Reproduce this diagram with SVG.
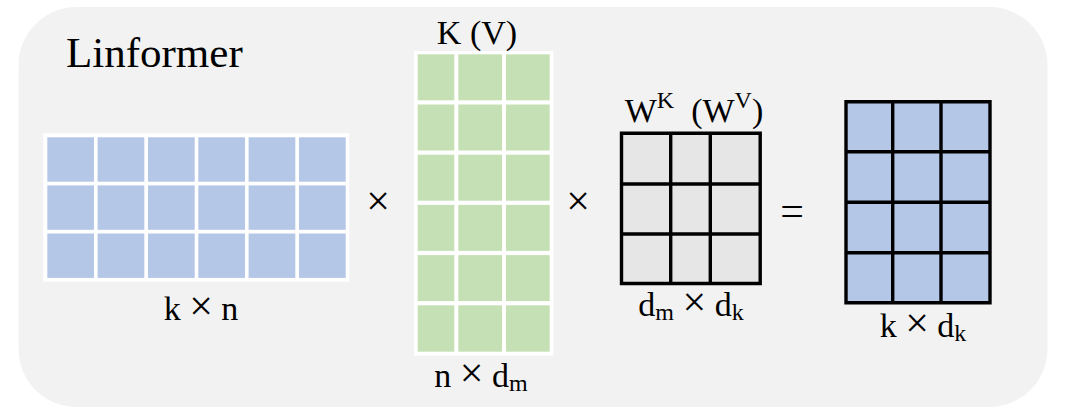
<svg xmlns="http://www.w3.org/2000/svg" width="1067" height="417" viewBox="0 0 1067 417">
<style>
text{font-family:"Liberation Serif","Times New Roman",serif;fill:#000}
.lbl{font-size:34px;text-anchor:middle}
.sub{font-size:24px}
.x{font-size:42px}
.op{font-size:42px;text-anchor:middle}
.blue{fill:#b4c7e7}
.green{fill:#c5e0b4}
.grid{stroke:#000;stroke-width:3.4;fill:none}
</style>
<rect x="0" y="0" width="1067" height="417" fill="#fff"/>
<rect id="panel" x="18.5" y="7" width="1029" height="400" rx="58" ry="58" fill="#f2f2f2"/>
<text id="title" x="66" y="67" font-size="43">Linformer</text>

<g id="matrix-kn">
<rect x="43.3" y="133.3" width="306" height="148.4" fill="#fff"/>
<g class="blue">
<rect x="47.3" y="137.3" width="46.7" height="44.4"/><rect x="97.6" y="137.3" width="46.7" height="44.4"/><rect x="148" y="137.3" width="46.7" height="44.4"/><rect x="198.3" y="137.3" width="46.7" height="44.4"/><rect x="248.6" y="137.3" width="46.7" height="44.4"/><rect x="299" y="137.3" width="46.7" height="44.4"/>
<rect x="47.3" y="185.4" width="46.7" height="44.4"/><rect x="97.6" y="185.4" width="46.7" height="44.4"/><rect x="148" y="185.4" width="46.7" height="44.4"/><rect x="198.3" y="185.4" width="46.7" height="44.4"/><rect x="248.6" y="185.4" width="46.7" height="44.4"/><rect x="299" y="185.4" width="46.7" height="44.4"/>
<rect x="47.3" y="233.5" width="46.7" height="44.4"/><rect x="97.6" y="233.5" width="46.7" height="44.4"/><rect x="148" y="233.5" width="46.7" height="44.4"/><rect x="198.3" y="233.5" width="46.7" height="44.4"/><rect x="248.6" y="233.5" width="46.7" height="44.4"/><rect x="299" y="233.5" width="46.7" height="44.4"/>
</g>
<text class="lbl" x="201" y="320">k <tspan class="x">×</tspan> n</text>
</g>

<g id="op-times-1"><text class="op" x="378" y="215">×</text></g>

<g id="matrix-K">
<text class="lbl" x="477" y="44.3">K (V)</text>
<rect x="414" y="51" width="139.3" height="304.7" fill="#fff"/>
<g class="green">
<rect x="417.7" y="54.3" width="36.6" height="46"/><rect x="458.3" y="54.3" width="43.7" height="46"/><rect x="506" y="54.3" width="43.7" height="46"/>
<rect x="417.7" y="104.5" width="36.6" height="46"/><rect x="458.3" y="104.5" width="43.7" height="46"/><rect x="506" y="104.5" width="43.7" height="46"/>
<rect x="417.7" y="154.7" width="36.6" height="46"/><rect x="458.3" y="154.7" width="43.7" height="46"/><rect x="506" y="154.7" width="43.7" height="46"/>
<rect x="417.7" y="204.9" width="36.6" height="46"/><rect x="458.3" y="204.9" width="43.7" height="46"/><rect x="506" y="204.9" width="43.7" height="46"/>
<rect x="417.7" y="255.1" width="36.6" height="46"/><rect x="458.3" y="255.1" width="43.7" height="46"/><rect x="506" y="255.1" width="43.7" height="46"/>
<rect x="417.7" y="305.3" width="36.6" height="46.4"/><rect x="458.3" y="305.3" width="43.7" height="46.4"/><rect x="506" y="305.3" width="43.7" height="46.4"/>
</g>
<text class="lbl" x="481" y="387.3">n <tspan class="x">×</tspan> d<tspan class="sub" dy="4">m</tspan></text>
</g>

<g id="op-times-2"><text class="op" x="578" y="215">×</text></g>

<g id="matrix-W">
<text class="lbl" x="694" y="121.7" xml:space="preserve">W<tspan class="sub" dy="-14">K</tspan><tspan dy="14">  (W</tspan><tspan class="sub" dy="-14">V</tspan><tspan dy="14">)</tspan></text>
<rect x="621.5" y="133.2" width="138.7" height="150.3" fill="#e7e6e6"/>
<path class="grid" d="M621.5 133.2H760.2V283.5H621.5Z M670.7 133.2V283.5 M710.3 133.2V283.5 M621.5 184H760.2 M621.5 234H760.2"/>
<text class="lbl" x="691" y="315.7">d<tspan class="sub" dy="4">m</tspan><tspan dy="-4"> </tspan><tspan class="x">×</tspan> d<tspan class="sub" dy="4">k</tspan></text>
</g>

<g id="op-equals"><text class="op" x="792" y="225">=</text></g>

<g id="matrix-out">
<rect class="blue" x="846" y="101.7" width="144" height="201"/>
<path class="grid" d="M846 101.7H990V302.7H846Z M892.7 101.7V302.7 M941 101.7V302.7 M846 151.7H990 M846 202.3H990 M846 252.7H990"/>
<text class="lbl" x="923" y="336.7">k <tspan class="x">×</tspan> d<tspan class="sub" dy="4">k</tspan></text>
</g>

<g id="connectors"></g>
</svg>
